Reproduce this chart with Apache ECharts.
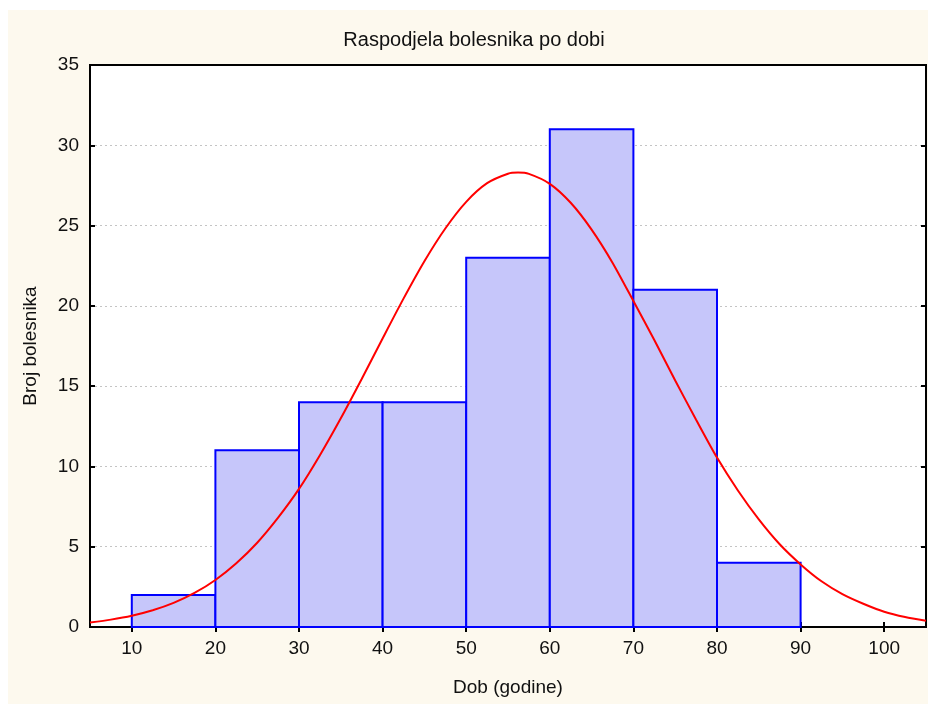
<!DOCTYPE html>
<html>
<head>
<meta charset="utf-8">
<script src="https://cdn.jsdelivr.net/npm/echarts@6/dist/echarts.min.js"></script>
<style>
html,body{margin:0;padding:0;background:#ffffff;}
#chart{width:928px;height:704px;}
</style>
</head>
<body>
<div id="chart"></div>
<script>
// Histogram bins (age from, age to) and patient counts
var binStart = [10, 20, 30, 40, 50, 60, 70, 80];
var binEnd   = [20, 30, 40, 50, 60, 70, 80, 90];
var counts   = [2, 11, 14, 14, 23, 31, 21, 4];

// Fitted normal curve
var curveX = [5, 7.5, 10, 12.5, 15, 17.5, 20, 22.5, 25, 27.5, 30, 32.5, 35, 37.5, 40, 42.5, 45, 47.5, 50, 52.5, 55, 56.2,
              57.5, 60, 62.5, 65, 67.5, 70, 72.5, 75, 77.5, 80, 82.5, 85, 87.5, 90, 92.5, 95, 97.5, 100, 102.5, 105];
var curveY = [0.28, 0.46, 0.7, 1.04, 1.5, 2.12, 2.93, 3.97, 5.25, 6.81, 8.6, 10.7, 13.0, 15.45, 17.97, 20.45, 22.78, 24.82, 26.48, 27.64, 28.23, 28.3,
              28.22, 27.6, 26.42, 24.75, 22.69, 20.3, 17.87, 15.35, 12.91, 10.55, 8.5, 6.7, 5.15, 3.9, 2.85, 2.05, 1.45, 0.95, 0.62, 0.39];

var xTicks = [10, 20, 30, 40, 50, 60, 70, 80, 90, 100];

var title = 'Raspodjela bolesnika po dobi';
var xName = 'Dob (godine)';
var yName = 'Broj bolesnika';

var histData = binStart.map(function (s, i) { return [s, binEnd[i], counts[i]]; });
var curveData = curveX.map(function (x, i) { return [x, curveY[i]]; });

var FONT = 'Liberation Sans, Arial, sans-serif';

var chart = echarts.init(document.getElementById('chart'), null, {renderer: 'canvas'});
chart.setOption({
  animation: false,
  backgroundColor: '#ffffff',
  textStyle: {fontFamily: FONT},
  graphic: [{
    type: 'rect', z: -100, silent: true,
    shape: {x: 8, y: 10, width: 920, height: 694},
    style: {fill: '#fdf9ee'}
  }, {
    type: 'text', silent: true,
    x: 474, y: 40,
    style: {text: title, fontSize: 20, fontFamily: FONT, fill: '#111', align: 'center', verticalAlign: 'middle'}
  }],
  grid: {
    left: 90, right: 2, top: 65, bottom: 77,
    show: true, backgroundColor: '#ffffff', borderColor: '#000', borderWidth: 2
  },
  xAxis: [{
    type: 'value', min: 5, max: 105, position: 'bottom',
    name: xName, nameLocation: 'middle', nameGap: 51,
    nameTextStyle: {fontSize: 19, color: '#111', fontFamily: FONT},
    axisLine: {show: true, lineStyle: {color: '#000', width: 2}},
    axisTick: {show: true, inside: true, length: 5, lineStyle: {color: '#000', width: 2}, customValues: xTicks},
    axisLabel: {show: true, fontSize: 19, color: '#111', margin: 12, customValues: xTicks},
    splitLine: {show: false}
  }, {
    type: 'value', min: 5, max: 105, position: 'top',
    axisLine: {show: true, lineStyle: {color: '#000', width: 2}},
    axisTick: {show: true, inside: true, length: 5, lineStyle: {color: '#000', width: 2}, customValues: xTicks},
    axisLabel: {show: false},
    splitLine: {show: false}
  }],
  yAxis: [{
    type: 'value', min: 0, max: 35, interval: 5, position: 'left',
    name: yName, nameLocation: 'middle', nameGap: 50,
    nameTextStyle: {fontSize: 19, color: '#111', fontFamily: FONT},
    axisLine: {show: true, lineStyle: {color: '#000', width: 2}},
    axisTick: {show: true, inside: true, length: 5, lineStyle: {color: '#000', width: 2}},
    axisLabel: {fontSize: 19, color: '#111', margin: 11},
    splitLine: {show: true, showMinLine: false, showMaxLine: false, lineStyle: {color: '#c4c4c4', type: [2, 3], width: 1}}
  }, {
    type: 'value', min: 0, max: 35, interval: 5, position: 'right',
    axisLine: {show: true, lineStyle: {color: '#000', width: 2}},
    axisTick: {show: true, inside: true, length: 5, lineStyle: {color: '#000', width: 2}},
    axisLabel: {show: false},
    splitLine: {show: false}
  }],
  series: [{
    type: 'custom',
    xAxisIndex: 0, yAxisIndex: 0,
    data: histData,
    z: 3,
    renderItem: function (params, api) {
      var p0 = api.coord([api.value(0), api.value(2)]);
      var p1 = api.coord([api.value(1), 0]);
      return {
        type: 'rect',
        shape: {x: p0[0], y: p0[1], width: p1[0] - p0[0], height: p1[1] - p0[1]},
        style: {fill: '#c6c6fa', stroke: '#0000ff', lineWidth: 2}
      };
    }
  }, {
    type: 'line',
    xAxisIndex: 0, yAxisIndex: 0,
    data: curveData,
    smooth: 0.25,
    showSymbol: false,
    z: 5,
    lineStyle: {color: '#ff0000', width: 2}
  }]
});
</script>
</body>
</html>
